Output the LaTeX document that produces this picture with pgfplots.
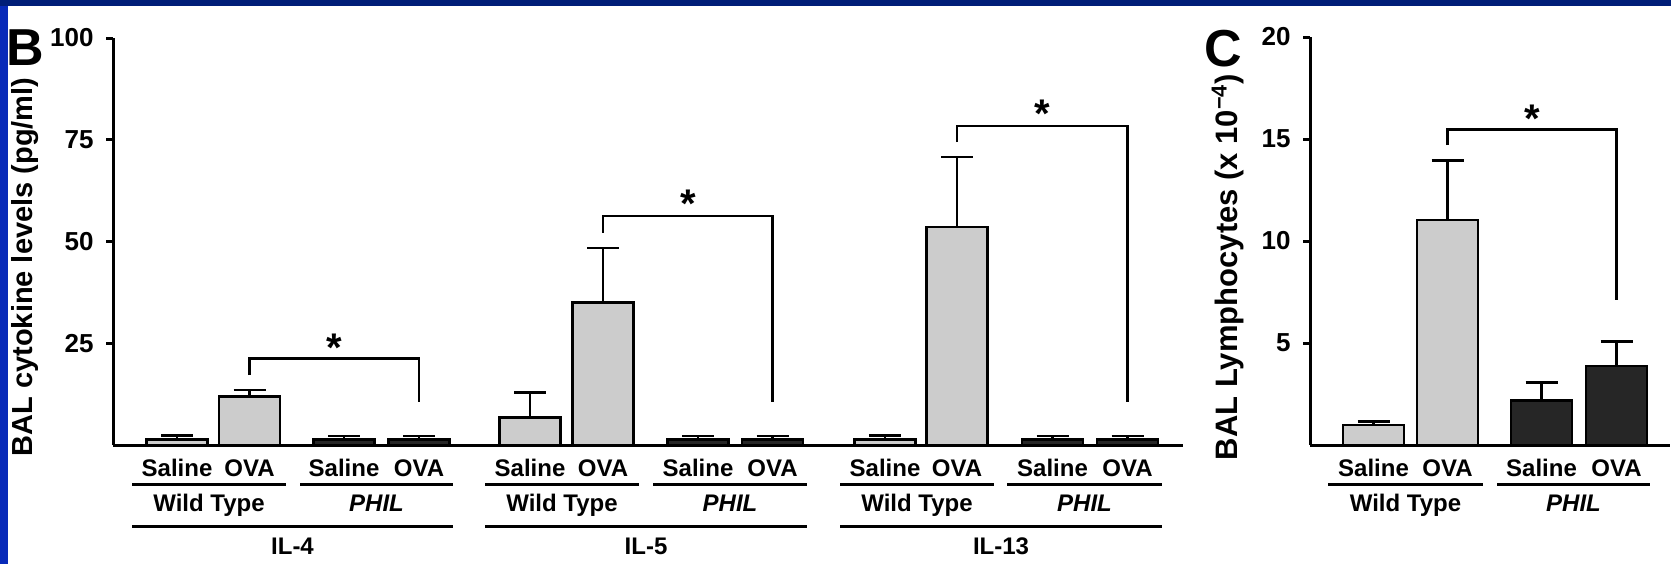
\documentclass[border=0pt]{standalone}
\usepackage{fontspec}
\setmainfont{Liberation Sans}
\usepackage{pgfplots}
\pgfplotsset{compat=1.18}
\usepackage{pgfplotstable}
\definecolor{barGray}{RGB}{204,204,204}
\definecolor{barDark}{RGB}{38,38,38}
\definecolor{navy}{RGB}{0,30,120}
\definecolor{sideblue}{RGB}{8,42,185}

% x positions are in the picture's horizontal units (bar centres)
\pgfplotstableread{
x y e
177 1.4 0.9
249.5 11.9 1.6
530 6.8 6.1
603 35.0 13.4
885 1.4 0.9
957 53.6 17.2
}\BWT
\pgfplotstableread{
x y e
344 1.3 0.9
419 1.3 0.9
698 1.3 0.9
772.5 1.3 0.9
1052.5 1.3 0.9
1127.5 1.3 0.9
}\BPHIL
\pgfplotstableread{
x y e
1373.5 0.98 0.17
1447.5 11.03 2.91
}\CWT
\pgfplotstableread{
x y e
1541.5 2.17 0.90
1616.5 3.87 1.19
}\CPHIL

\pgfplotsset{
  panel/.style={
    scale only axis, clip=false,
    axis x line*=bottom, axis y line*=left,
    axis line style={line width=1.5pt, -},
    xtick=\empty, ymin=0,
    tick align=outside, major tick length=3.5pt,
    every tick/.style={black, line width=1.5pt},
    /pgf/number format/assume math mode=true,
    yticklabel style={font=\fontsize{13}{13}\selectfont\bfseries, inner sep=0pt, anchor=east, xshift=-6pt},
  },
  bars/.style={ybar, bar width=61, bar shift=0pt, draw=black, line width=1.3pt,
    error bars/y dir=plus, error bars/y explicit,
    error bars/error bar style={line width=1.3pt, black},
    error bars/error mark options={rotate=90, mark size=8pt, line width=1.3pt, black}},
  bracket/.style={black, line width=1.3pt, mark=none, line join=miter},
}
\tikzset{sigstar/.style={font=\fontsize{20}{20}\selectfont\bfseries, anchor=base, inner sep=0pt, yshift=-11pt}}

\begin{document}
\begin{tikzpicture}
\path[use as bounding box] (0,0) rectangle (835.5pt,282pt);
\fill[white] (0,0) rectangle (835.5pt,282pt);

% Panel B
\begin{axis}[panel, at={(56.5pt,59.5pt)}, anchor=south west,
  width=535pt, height=203.5pt, xmin=113, xmax=1183, ymax=100,
  ytick={25,50,75,100}]
\addplot[bars, fill=barGray] table[x=x, y=y, y error=e] {\BWT};
\addplot[bars, fill=barDark] table[x=x, y=y, y error=e] {\BPHIL};
\addplot[bracket] coordinates {(249.5,17.2) (249.5,21.3) (419,21.3) (419,10.6)};
\addplot[bracket] coordinates {(603,52.1) (603,56.3) (772.5,56.3) (772.5,10.6)};
\addplot[bracket] coordinates {(957,74.4) (957,78.4) (1127.5,78.4) (1127.5,10.6)};
\node[sigstar] at (axis cs:334,25.9) {*};
\node[sigstar] at (axis cs:688,61.3) {*};
\node[sigstar] at (axis cs:1042,83.4) {*};
\end{axis}

% Panel C
\begin{axis}[panel, at={(655pt,59.5pt)}, anchor=south west,
  width=180pt, height=204pt, xmin=1310, xmax=1670, ymax=20,
  ytick={5,10,15,20}]
\addplot[bars, fill=barGray] table[x=x, y=y, y error=e] {\CWT};
\addplot[bars, fill=barDark] table[x=x, y=y, y error=e] {\CPHIL};
\addplot[bracket] coordinates {(1447.5,14.7) (1447.5,15.47) (1616.5,15.47) (1616.5,7.1)};
\node[sigstar] at (axis cs:1532,16.4) {*};
\end{axis}

\begin{scope}[x=0.5pt, y=-0.5pt, yshift=282pt]
  \fill[navy] (0,0) rectangle (1671,6);
  \fill[sideblue] (0,6) rectangle (8,564);
  \tikzset{lab/.style={font=\fontsize{12}{12}\selectfont\bfseries, anchor=base, inner sep=0pt}}
  % row 1
  \foreach \xx/\tt in {177/Saline,249.5/OVA,344/Saline,419/OVA,530/Saline,603/OVA,698/Saline,772.5/OVA,885/Saline,957/OVA,1052.5/Saline,1127.5/OVA,1373.5/Saline,1447.5/OVA,1541.5/Saline,1616.5/OVA}
    \node[lab] at (\xx,476.7) {\tt};
  % underlines row 1
  \foreach \a/\b in {132/286,300/453,485/639,653/807,840/994,1007/1162,1328/1483,1497/1650}
    \draw[line width=1.5pt] (\a,484.3) -- (\b,484.3);
  % row 2
  \foreach \a/\b in {132/286,485/639,840/994,1328/1483}
    \node[lab] at ({(\a+\b)/2},511.7) {Wild Type};
  \foreach \a/\b in {300/453,653/807,1007/1162,1497/1650}
    \node[lab] at ({(\a+\b)/2},511.7) {\itshape PHIL};
  % underlines row 2
  \foreach \a/\b in {132/453,485/807,840/1162}
    \draw[line width=1.5pt] (\a,526) -- (\b,526);
  % row 3
  \node[lab] at (292.5,554) {IL-4};
  \node[lab] at (646,554) {IL-5};
  \node[lab] at (1001,554) {IL-13};
  % panel letters
  \node[font=\fontsize{26}{26}\selectfont\bfseries, anchor=base west, inner sep=0pt] at (6.5,65) {B};
  \node[font=\fontsize{26}{26}\selectfont\bfseries, anchor=base west, inner sep=0pt] at (1204.4,66) {C};
  % y labels
  \node[rotate=90, anchor=base, inner sep=0pt, font=\fontsize{14.5}{14.5}\selectfont\bfseries] at (33,267) {BAL cytokine levels (pg/ml)};
  \node[rotate=90, anchor=base, inner sep=0pt, font=\fontsize{15.5}{15.5}\selectfont\bfseries] at (1237,267) {BAL Lymphocytes (x 10\textsuperscript{−4})};
\end{scope}
\end{tikzpicture}
\end{document}
